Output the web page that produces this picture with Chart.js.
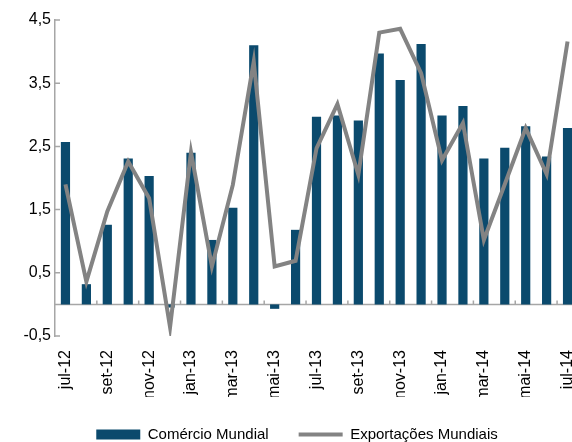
<!DOCTYPE html>
<html lang="pt">
<head>
<meta charset="utf-8">
<title>Comércio e Exportações Mundiais</title>
<style>
  html, body { margin: 0; padding: 0; background: #fff; overflow: hidden; }
  #wrapper { width: 580px; height: 452px; }
</style>
</head>
<body>
<div id="wrapper"><canvas id="canvas"></canvas></div>
<script src="https://cdn.jsdelivr.net/npm/chart.js@4"></script>
<script>
const months = ['jul-12','ago-12','set-12','out-12','nov-12','dez-12','jan-13','fev-13','mar-13','abr-13','mai-13','jun-13',
                'jul-13','ago-13','set-13','out-13','nov-13','dez-13','jan-14','fev-14','mar-14','abr-14','mai-14','jun-14','jul-14'];
const comercio = [2.57, 0.32, 1.26, 2.31, 2.03, -0.05, 2.40, 1.02, 1.53, 4.10, -0.07, 1.18,
                  2.97, 2.99, 2.91, 3.97, 3.55, 4.12, 2.99, 3.14, 2.31, 2.48, 2.82, 2.34, 2.79];
const exportacoes = [1.90, 0.36, 1.47, 2.26, 1.68, -0.36, 2.41, 0.60, 1.89, 3.84, 0.60, 0.69,
                     2.47, 3.17, 2.05, 4.30, 4.36, 3.66, 2.28, 2.87, 1.02, 1.90, 2.79, 2.06, 4.16];
const yTicks = [-0.5, 0.5, 1.5, 2.5, 3.5, 4.5];

Chart.defaults.font.family = "'Liberation Sans', Arial, sans-serif";
Chart.defaults.color = '#000';

// zero line + inside tick marks, like the excel original
const axisMarks = {
  id: 'axisMarks',
  beforeDatasetsDraw(chart) {
    const {ctx, chartArea, scales: {x, y}} = chart;
    const y0 = y.getPixelForValue(0);
    ctx.save();
    ctx.strokeStyle = '#a6a6a6';
    ctx.lineWidth = 1.5;
    ctx.beginPath();
    ctx.moveTo(chartArea.left, y0);
    ctx.lineTo(chartArea.right, y0);
    for (let i = 2; i < months.length; i += 2) {
      const px = x.getPixelForValue(i - 0.5);
      ctx.moveTo(px, y0);
      ctx.lineTo(px, y0 - 4);
    }
    yTicks.forEach(v => {
      const py = y.getPixelForValue(v);
      ctx.moveTo(chartArea.left, py);
      ctx.lineTo(chartArea.left + 5, py);
    });
    ctx.stroke();
    ctx.restore();
  }
};

new Chart(document.getElementById('canvas'), {
  type: 'bar',
  data: {
    labels: months,
    datasets: [{
      label: 'Comércio Mundial',
      data: comercio,
      backgroundColor: '#0b4a6d',
      borderWidth: 0,
      barPercentage: 0.44,
      categoryPercentage: 1,
      pointStyle: 'rect',
      order: 1
    }, {
      type: 'line',
      label: 'Exportações Mundiais',
      data: exportacoes,
      borderColor: '#838383',
      backgroundColor: '#838383',
      borderWidth: 4,
      pointRadius: 0,
      pointStyle: 'line',
      tension: 0,
      order: 0
    }]
  },
  options: {
    responsive: true,
    maintainAspectRatio: false,
    animation: false,
    layout: { padding: { left: 16, top: 20, right: 2, bottom: 0 } },
    plugins: {
      tooltip: { enabled: false },
      legend: {
        position: 'bottom',
        labels: {
          usePointStyle: true,
          pointStyleWidth: 44,
          boxHeight: 10,
          padding: 30,
          font: { size: 15 },
          sort: (a, b) => a.datasetIndex - b.datasetIndex
        }
      }
    },
    scales: {
      x: {
        grid: { display: false, drawTicks: false },
        border: { display: false },
        ticks: {
          autoSkip: false,
          minRotation: 90,
          maxRotation: 90,
          padding: 14,
          font: { size: 16 },
          callback: (v, i) => i % 2 === 0 ? months[i] : ''
        },
        afterFit(s) {
          s.height = 61;
          s.paddingLeft = 0;
          s.paddingRight = 0;
        }
      },
      y: {
        min: -0.5,
        max: 4.5,
        afterBuildTicks(s) { s.ticks = yTicks.map(v => ({ value: v })); },
        grid: { display: false, drawTicks: false },
        border: { color: '#a6a6a6', width: 1.5 },
        ticks: {
          padding: 4,
          font: { size: 16 },
          callback: v => v.toFixed(1).replace('.', ',')
        },
        afterFit(s) {
          s.width = 39;
          s.paddingTop = 0;
          s.paddingBottom = 0;
        }
      }
    }
  },
  plugins: [axisMarks]
});
</script>
</body>
</html>
